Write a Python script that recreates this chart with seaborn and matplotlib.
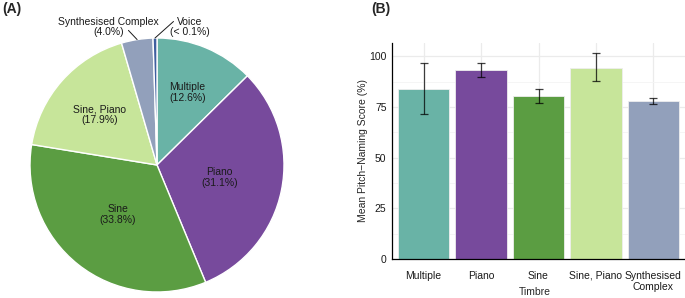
import numpy as np
import pandas as pd
import seaborn as sns
import matplotlib.pyplot as plt

# pie data (share of trials by timbre, %)
pie_labels = ["Multiple", "Piano", "Sine", "Sine, Piano", "Synthesised Complex", "Voice"]
pie_share = [12.6, 31.1, 33.8, 17.9, 4.0, 0.5]
pie_text = ["12.6%", "31.1%", "33.8%", "17.9%", "4.0%", "< 0.1%"]

# bar data (mean pitch-naming score with interval)
timbres = ["Multiple", "Piano", "Sine", "Sine, Piano", "Synthesised\nComplex"]
score_mean = [83.8, 93.0, 80.4, 94.4, 78.0]
score_low = [71.5, 89.9, 77.0, 87.9, 76.5]
score_high = [96.8, 96.5, 84.0, 101.5, 79.6]

colors = ["#69b3a6", "#774a9c", "#5b9d42", "#c7e59a", "#92a0bb", "#3f5f9f"]

sns.set_style("white")
plt.rcParams["font.family"] = ["Liberation Sans", "DejaVu Sans"]
fs = 7.5

fig = plt.figure(figsize=(6.85, 2.98), dpi=100)

# ---- (A) pie ----
ax1 = fig.add_axes([30 / 685, 6 / 298, 254 / 685, 254 / 298])
wedges, _ = ax1.pie(pie_share, colors=colors, startangle=90, counterclock=False,
                    wedgeprops=dict(edgecolor="white", linewidth=1))
ax1.set_aspect("equal")
ax1.set_xlim(-1, 1)
ax1.set_ylim(-1, 1)

inner_r = [0.62, 0.5, 0.5, 0.6]
for w, lab, pct, r in zip(wedges[:4], pie_labels[:4], pie_text[:4], inner_r):
    ang = np.deg2rad((w.theta1 + w.theta2) / 2)
    ax1.text(r * np.cos(ang), r * np.sin(ang), f"{lab}\n({pct})", ha="center", va="center",
             fontsize=fs, linespacing=1.1, color="#1a1a1a")

# outside labels with leader lines
outer = [(4, (-0.225, 1.06), (-0.38, 1.085)), (5, (0.13, 1.13), (0.26, 1.085))]
for i, end, txt in outer:
    w = wedges[i]
    ang = np.deg2rad((w.theta1 + w.theta2) / 2)
    ax1.plot([np.cos(ang), end[0]], [np.sin(ang), end[1]], color="#1a1a1a", lw=0.7, clip_on=False)
    ax1.text(txt[0], txt[1], f"{pie_labels[i]}\n({pie_text[i]})", ha="center", va="center",
             fontsize=fs, linespacing=1.05, color="#1a1a1a")

# ---- (B) bars ----
ax2 = fig.add_axes([392 / 685, 39 / 298, 293 / 685, 216 / 298])
df = pd.DataFrame({"Timbre": timbres, "Score": score_mean})
sns.barplot(data=df, x="Timbre", y="Score", hue="Timbre", palette=colors[:5], width=0.9,
            saturation=1, errorbar=None, legend=False, edgecolor="#eeeeee", linewidth=0.6,
            ax=ax2, zorder=2)
xs = np.arange(len(timbres))
mean = np.array(score_mean)
ax2.errorbar(xs, mean, yerr=[mean - np.array(score_low), np.array(score_high) - mean],
             fmt="none", ecolor="black", alpha=0.75, elinewidth=0.9, capsize=3, capthick=0.9, zorder=3)

ax2.set_xlim(-0.55, 4.55)
ax2.set_ylim(0, 106.5)
ax2.set_yticks([0, 25, 50, 75, 100])
ax2.set_yticks([12.5, 37.5, 62.5, 87.5], minor=True)
ax2.grid(True, which="major", color="#ebebeb", lw=0.9, zorder=0)
ax2.grid(True, which="minor", axis="y", color="#f4f4f4", lw=0.6, zorder=0)
ax2.set_axisbelow(True)
for s in ["top", "right"]:
    ax2.spines[s].set_visible(False)
for s in ["left", "bottom"]:
    ax2.spines[s].set_color("black")
    ax2.spines[s].set_linewidth(0.9)
ax2.tick_params(axis="y", length=0, labelsize=fs, pad=4, colors="#1a1a1a")
ax2.tick_params(axis="x", length=0, labelsize=fs, pad=8.5, colors="#1a1a1a")
ax2.set_xlabel("Timbre", fontsize=fs, va="center")
ax2.xaxis.set_label_coords(0.488, -0.153)
ax2.set_ylabel("Mean Pitch\u2212Naming Score (%)", fontsize=fs, labelpad=1)

fig.text(2 / 685, 1 - 2 / 298, "(A)", fontsize=10, fontweight="bold", va="top", ha="left")
fig.text(371 / 685, 1 - 2 / 298, "(B)", fontsize=10, fontweight="bold", va="top", ha="left")

fig.savefig("out.png", dpi=100)
